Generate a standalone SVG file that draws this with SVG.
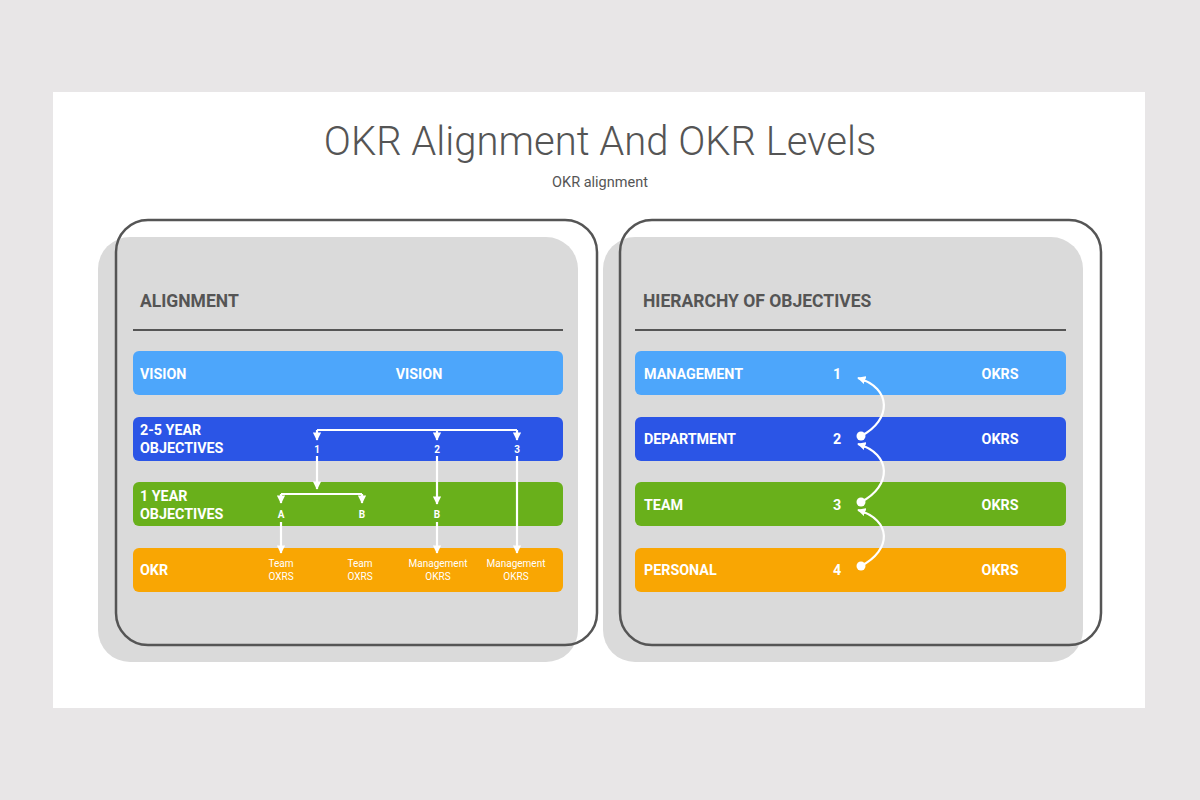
<svg xmlns="http://www.w3.org/2000/svg" width="1200" height="800" viewBox="0 0 1200 800">
<defs>
<style>
.t{font-family:Roboto,"Liberation Sans",sans-serif}
.h{font-family:Roboto,"Liberation Sans",sans-serif;font-weight:700;font-size:17.5px;fill:#555}
.b{font-family:Roboto,"Liberation Sans",sans-serif;font-weight:700;font-size:14.3px;fill:#fff}
.s{font-family:Roboto,"Liberation Sans",sans-serif;font-size:10px;fill:#fff;text-anchor:middle}
.c{stroke:#fff;stroke-width:2.2;fill:none}
.panel{fill:#dadada}
.outline{fill:none;stroke:#555;stroke-width:2.5}
</style>
<marker id="ah" viewBox="0 0 10 10" refX="9" refY="5" markerWidth="3.8" markerHeight="3.8" orient="auto" markerUnits="strokeWidth">
<path d="M0,0 L10,5 L0,10 z" fill="#fff"/>
</marker>
</defs>
<rect width="1200" height="800" fill="#e8e6e7"/>
<rect x="53" y="92" width="1092" height="616" fill="#fff"/>
<text class="t" x="600" y="155" text-anchor="middle" font-size="40" font-weight="300" fill="#555">OKR Alignment And OKR Levels</text>
<text class="t" x="600" y="187" text-anchor="middle" font-size="14.5" fill="#555">OKR alignment</text>

<g id="left-panel">
<rect class="panel" x="98" y="237" width="480" height="425" rx="32"/>
<rect class="outline" x="116" y="220" width="481" height="425" rx="32"/>
<text class="h" x="140" y="307">ALIGNMENT</text>
<line x1="133" y1="330" x2="563" y2="330" stroke="#555" stroke-width="2"/>
</g>
<g id="vision">
<rect x="133" y="351" width="430" height="44" rx="6" fill="#4da6fb"/>
<text class="b" x="140" y="379">VISION</text>
<text class="b" x="419" y="379" text-anchor="middle">VISION</text>
</g>
<g id="objectives-2-5">
<rect x="133" y="417" width="430" height="44" rx="6" fill="#2b55e6"/>
<text class="b" x="140" y="435">2-5 YEAR</text>
<text class="b" x="140" y="453">OBJECTIVES</text>
<text class="s" x="317" y="453" font-weight="700" font-size="11">1</text>
<text class="s" x="437" y="453" font-weight="700" font-size="11">2</text>
<text class="s" x="517" y="453" font-weight="700" font-size="11">3</text>
</g>
<g id="objectives-1">
<rect x="133" y="482" width="430" height="44" rx="6" fill="#69b01b"/>
<text class="b" x="140" y="501">1 YEAR</text>
<text class="b" x="140" y="519">OBJECTIVES</text>
<text class="s" x="281" y="518" font-weight="700" font-size="11">A</text>
<text class="s" x="362" y="518" font-weight="700" font-size="11">B</text>
<text class="s" x="437" y="518" font-weight="700" font-size="11">B</text>
</g>
<g id="okr">
<rect x="133" y="548" width="430" height="44" rx="6" fill="#f9a603"/>
<text class="b" x="140" y="575">OKR</text>
<text class="s" x="281" y="567">Team</text>
<text class="s" x="281" y="580">OXRS</text>
<text class="s" x="360" y="567">Team</text>
<text class="s" x="360" y="580">OXRS</text>
<text class="s" x="438" y="567">Management</text>
<text class="s" x="438" y="580">OKRS</text>
<text class="s" x="516" y="567">Management</text>
<text class="s" x="516" y="580">OKRS</text>
</g>

<g id="right-panel">
<rect class="panel" x="603" y="237" width="480" height="425" rx="32"/>
<rect class="outline" x="620" y="220" width="481" height="425" rx="32"/>
<text class="h" x="643" y="307">HIERARCHY OF OBJECTIVES</text>
<line x1="635" y1="330" x2="1066" y2="330" stroke="#555" stroke-width="2"/>
</g>
<g id="management">
<rect x="635" y="351" width="431" height="44" rx="6" fill="#4da6fb"/>
<text class="b" x="644" y="379">MANAGEMENT</text>
<text class="b" x="837" y="379" text-anchor="middle">1</text>
<text class="b" x="1000" y="379" text-anchor="middle">OKRS</text>
</g>
<g id="department">
<rect x="635" y="417" width="431" height="44" rx="6" fill="#2b55e6"/>
<text class="b" x="644" y="444">DEPARTMENT</text>
<text class="b" x="837" y="444" text-anchor="middle">2</text>
<text class="b" x="1000" y="444" text-anchor="middle">OKRS</text>
</g>
<g id="team">
<rect x="635" y="482" width="431" height="44" rx="6" fill="#69b01b"/>
<text class="b" x="644" y="510">TEAM</text>
<text class="b" x="837" y="510" text-anchor="middle">3</text>
<text class="b" x="1000" y="510" text-anchor="middle">OKRS</text>
</g>
<g id="personal">
<rect x="635" y="548" width="431" height="44" rx="6" fill="#f9a603"/>
<text class="b" x="644" y="575">PERSONAL</text>
<text class="b" x="837" y="575" text-anchor="middle">4</text>
<text class="b" x="1000" y="575" text-anchor="middle">OKRS</text>
</g>

<g id="connectors">
<path class="c" d="M317,430 H517"/>
<path class="c" d="M317,430 V440" marker-end="url(#ah)"/>
<path class="c" d="M437,430 V440" marker-end="url(#ah)"/>
<path class="c" d="M517,430 V440" marker-end="url(#ah)"/>
<path class="c" d="M317,456 V489" marker-end="url(#ah)"/>
<path class="c" d="M281,494 H362"/>
<path class="c" d="M281,494 V503" marker-end="url(#ah)"/>
<path class="c" d="M362,494 V503" marker-end="url(#ah)"/>
<path class="c" d="M437,456 V504" marker-end="url(#ah)"/>
<path class="c" d="M281,522 V553" marker-end="url(#ah)"/>
<path class="c" d="M437,522 V553" marker-end="url(#ah)"/>
<path class="c" d="M517,456 V553" marker-end="url(#ah)"/>
<circle cx="861" cy="436" r="4.5" fill="#fff"/>
<circle cx="861" cy="502" r="4.5" fill="#fff"/>
<circle cx="861" cy="566" r="4.5" fill="#fff"/>
<path class="c" d="M861,436 C892,420 892,388 858,378" marker-end="url(#ah)"/>
<path class="c" d="M861,502 C892,486 892,454 858,444" marker-end="url(#ah)"/>
<path class="c" d="M861,566 C892,550 892,520 858,510" marker-end="url(#ah)"/>
</g>
</svg>
